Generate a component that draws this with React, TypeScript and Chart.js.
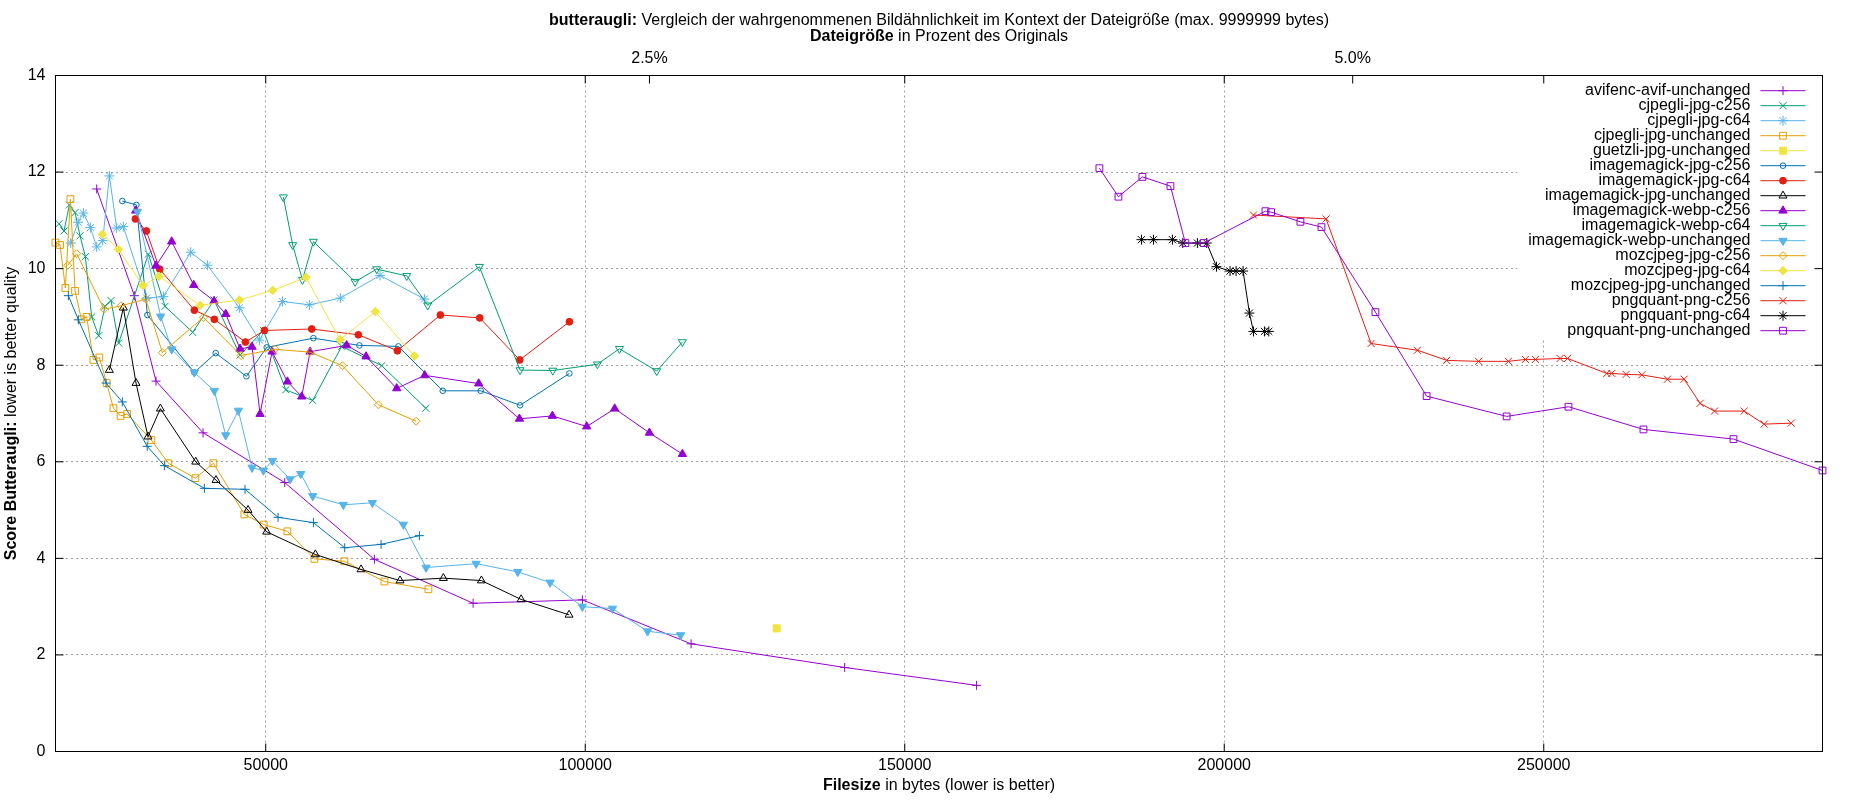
import React, { useEffect, useRef } from 'react';
import { Chart, registerables } from 'chart.js';
import { drawPoint } from 'chart.js/helpers';

Chart.register(...registerables);

// [Dateigröße in bytes, Score Butteraugli]
const avifencAvifUnchanged: [number, number][] = [
  [23550, 11.65], [29440, 9.44], [32830, 7.67], [40190, 6.6], [52970, 5.57], [67000, 3.98],
  [82450, 3.07], [99550, 3.14], [116560, 2.23], [140600, 1.74], [161240, 1.37],
];
const cjpegliJpgC256: [number, number][] = [
  [17650, 10.93], [18430, 10.78], [19270, 11.32], [20160, 11.16], [20940, 10.68], [21770, 10.25],
  [22760, 9.0], [23860, 8.61], [24850, 9.22], [25790, 9.34], [26990, 8.46], [31630, 10.3],
  [34240, 9.22], [38570, 8.68], [41910, 9.35], [45980, 8.21], [49630, 8.72], [53130, 7.49],
  [57350, 7.27], [61890, 8.39], [68150, 7.99], [75040, 7.11],
];
const cjpegliJpgC64: [number, number][] = [
  [19480, 10.53], [20630, 10.96], [21460, 11.15], [22560, 10.85], [23550, 10.45], [24490, 10.58],
  [25530, 11.92], [26680, 10.84], [27720, 10.87], [31370, 9.39], [33980, 9.42], [38260, 10.34],
  [40870, 10.07], [45880, 9.19], [49010, 8.52], [52610, 9.32], [56830, 9.25], [61680, 9.39],
  [67890, 9.86], [74830, 9.37],
];
const cjpegliJpgUnchanged: [number, number][] = [
  [17100, 10.54], [17810, 10.49], [18640, 9.6], [19430, 11.44], [20160, 9.54], [21150, 8.95],
  [21980, 9.0], [23030, 8.11], [23960, 8.16], [25110, 7.63], [26160, 7.11], [27280, 6.95],
  [28320, 6.99], [32100, 6.45], [34760, 5.97], [38990, 5.66], [41810, 5.97], [46660, 4.91],
  [49680, 4.7], [53390, 4.56], [57610, 3.99], [62310, 3.94], [68570, 3.52], [75460, 3.36],
];
const guetzliJpgUnchanged: [number, number][] = [[129950, 2.55]];
const imagemagickJpgC256: [number, number][] = [
  [27560, 11.4], [29760, 11.32], [31480, 9.04], [38830, 7.85], [42170, 8.25], [46970, 7.77],
  [50150, 8.37], [57460, 8.56], [64660, 8.41], [70760, 8.39], [77700, 7.47], [83650, 7.47],
  [89800, 7.17], [97520, 7.83],
];
const imagemagickJpgC64: [number, number][] = [
  [29600, 11.03], [31320, 10.78], [33410, 9.99], [38830, 9.14], [41960, 8.95], [46820, 8.48],
  [49790, 8.72], [57200, 8.75], [64500, 8.63], [70600, 8.3], [77330, 9.04], [83490, 8.98],
  [89750, 8.11], [97520, 8.9],
];
const imagemagickJpgUnchanged: [number, number][] = [
  [25530, 7.9], [27720, 9.19], [29700, 7.63], [31580, 6.52], [33510, 7.1], [39040, 6.0],
  [42220, 5.62], [47230, 5.0], [50150, 4.55], [57770, 4.08], [64920, 3.77], [71020, 3.54],
  [77800, 3.59], [83750, 3.54], [89960, 3.15], [97470, 2.83],
];
const imagemagickWebpC256: [number, number][] = [
  [29650, 11.2], [32830, 10.06], [35280, 10.56], [38730, 9.66], [41910, 9.33], [43740, 9.06],
  [45980, 8.34], [47860, 8.38], [49110, 6.99], [50990, 8.28], [53390, 7.66], [55630, 7.35],
  [56940, 8.28], [62670, 8.41], [65700, 8.18], [70500, 7.52], [74880, 7.79], [83330, 7.62],
  [89700, 6.89], [94860, 6.95], [100230, 6.73], [104610, 7.1], [110040, 6.6], [115200, 6.16],
];
const imagemagickWebpC64: [number, number][] = [
  [52760, 11.48], [54220, 10.49], [55740, 9.77], [57460, 10.56], [63980, 9.73], [67370, 9.99],
  [72070, 9.85], [75350, 9.24], [83440, 10.04], [89800, 7.9], [94920, 7.89], [101900, 8.02],
  [105350, 8.34], [111190, 7.88], [115200, 8.48],
];
const imagemagickWebpUnchanged: [number, number][] = [
  [29910, 11.18], [33560, 9.01], [35280, 8.33], [38830, 7.85], [41960, 7.47], [43740, 6.55],
  [45720, 7.06], [47860, 5.88], [49630, 5.82], [51040, 6.02], [53810, 5.64], [55480, 5.75],
  [57350, 5.29], [62150, 5.11], [66690, 5.15], [71540, 4.7], [75090, 3.81], [82920, 3.89],
  [89440, 3.72], [94500, 3.5], [99550, 3.0], [104260, 2.96], [109750, 2.49], [114920, 2.41],
];
const mozcjpegJpgC256: [number, number][] = [
  [19010, 10.07], [20420, 10.31], [24700, 9.16], [27350, 9.23], [31220, 9.37], [33820, 8.26],
  [40240, 8.99], [46140, 8.2], [51460, 8.33], [56940, 8.27], [62000, 7.99], [67630, 7.18],
  [73530, 6.84],
];
const mozcjpegJpgC64: [number, number][] = [
  [24430, 10.71], [26940, 10.4], [30800, 9.65], [33300, 9.84], [39720, 9.24], [45880, 9.35],
  [51090, 9.55], [56310, 9.82], [61630, 8.53], [67160, 9.11], [73260, 8.19],
];
const mozcjpegJpgUnchanged: [number, number][] = [
  [19110, 9.44], [20680, 8.94], [25010, 7.63], [27560, 7.24], [31450, 6.32], [34140, 5.92],
  [40400, 5.45], [46760, 5.43], [51930, 4.85], [57460, 4.74], [62360, 4.22], [68050, 4.29],
  [74050, 4.47],
];
const pngquantPngC256: [number, number][] = [
  [204570, 11.11], [215940, 11.03], [222980, 8.45], [230230, 8.31], [234800, 8.1], [239800, 8.08],
  [244470, 8.08], [247130, 8.12], [248700, 8.12], [252560, 8.14], [253730, 8.14], [259860, 7.83],
  [260650, 7.83], [262890, 7.81], [265340, 7.8], [269360, 7.71], [271970, 7.71], [274470, 7.21],
  [276720, 7.05], [281360, 7.05], [284490, 6.78], [288720, 6.8],
];
const pngquantPngC64: [number, number][] = [
  [187040, 10.6], [188920, 10.6], [191890, 10.6], [193510, 10.53], [195800, 10.53], [197260, 10.53],
  [198780, 10.04], [200910, 9.95], [201850, 9.95], [202950, 9.95], [203940, 9.08], [204570, 8.7],
  [206290, 8.7], [206970, 8.7],
];
const pngquantPngUnchanged: [number, number][] = [
  [180460, 12.08], [183440, 11.49], [187190, 11.9], [191580, 11.71], [193920, 10.53], [196790, 10.53],
  [206450, 11.19], [207330, 11.17], [211920, 10.97], [215210, 10.86], [223660, 9.1], [231670, 7.36],
  [244190, 6.94], [253870, 7.14], [265600, 6.67], [279690, 6.47], [293620, 5.82],
];

const SERIES_NAMES = [
  'avifenc-avif-unchanged', 'cjpegli-jpg-c256', 'cjpegli-jpg-c64', 'cjpegli-jpg-unchanged',
  'guetzli-jpg-unchanged', 'imagemagick-jpg-c256', 'imagemagick-jpg-c64', 'imagemagick-jpg-unchanged',
  'imagemagick-webp-c256', 'imagemagick-webp-c64', 'imagemagick-webp-unchanged', 'mozcjpeg-jpg-c256',
  'mozcjpeg-jpg-c64', 'mozcjpeg-jpg-unchanged', 'pngquant-png-c256', 'pngquant-png-c64',
  'pngquant-png-unchanged',
];
const SERIES_DATA = [
  avifencAvifUnchanged, cjpegliJpgC256, cjpegliJpgC64, cjpegliJpgUnchanged, guetzliJpgUnchanged,
  imagemagickJpgC256, imagemagickJpgC64, imagemagickJpgUnchanged, imagemagickWebpC256,
  imagemagickWebpC64, imagemagickWebpUnchanged, mozcjpegJpgC256, mozcjpegJpgC64,
  mozcjpegJpgUnchanged, pngquantPngC256, pngquantPngC64, pngquantPngUnchanged,
];
// guetzli hat nur einen Punkt
const POINTS_ONLY = ['guetzli-jpg-unchanged'];

const X_TICKS = [50000, 100000, 150000, 200000, 250000];
const X2_TICKS = [2.5, 5.0];
const Y_TICKS = [0, 2, 4, 6, 8, 10, 12, 14];
const ORIGINAL_BYTES = 4402000;

const allX = SERIES_DATA.flat().map((p) => p[0]);
const X_MIN = Math.min(...allX);
const X_MAX = Math.max(...allX);

// gnuplot Standardfarben
const COLORS = ['#9400d3', '#009e73', '#56b4e9', '#e69f00', '#f0e442', '#0072b2', '#e51e10', '#000000'];
// gnuplot pointtypes 1..13, danach wieder von vorn
const MARKERS: { style: any; radius: number; filled: boolean; rotation?: number }[] = [
  { style: 'cross', radius: 4.5, filled: false },
  { style: 'crossRot', radius: 5, filled: false },
  { style: 'star', radius: 5, filled: false },
  { style: 'rect', radius: 4.8, filled: false },
  { style: 'rect', radius: 5, filled: true },
  { style: 'circle', radius: 2.8, filled: false },
  { style: 'circle', radius: 3.4, filled: true },
  { style: 'triangle', radius: 4.6, filled: false },
  { style: 'triangle', radius: 4.8, filled: true },
  { style: 'triangle', radius: 4.6, filled: false, rotation: 180 },
  { style: 'triangle', radius: 4.8, filled: true, rotation: 180 },
  { style: 'rectRot', radius: 4, filled: false },
  { style: 'rectRot', radius: 4.3, filled: true },
];

const FONT = '"Liberation Sans", Arial, sans-serif';
const FS = 16;

// Text mit fett/normal gemischt, zentriert
function drawMixed(ctx: CanvasRenderingContext2D, parts: [string, boolean][], cx: number, cy: number) {
  const widths = parts.map(([t, b]) => {
    ctx.font = `${b ? 'bold ' : ''}${FS}px ${FONT}`;
    return ctx.measureText(t).width;
  });
  let x = cx - widths.reduce((a, b) => a + b, 0) / 2;
  ctx.textAlign = 'left';
  ctx.textBaseline = 'middle';
  ctx.fillStyle = '#000';
  parts.forEach(([t, b], i) => {
    ctx.font = `${b ? 'bold ' : ''}${FS}px ${FONT}`;
    ctx.fillText(t, x, cy);
    x += widths[i];
  });
}

const gnuplotDecor = {
  id: 'gnuplotDecor',
  afterDatasetsDraw(chart: any) {
    const { ctx, chartArea: a, scales } = chart;
    ctx.save();

    // Legende, oben rechts mit weißem Hintergrund
    const boxLeft = a.right - 305;
    ctx.fillStyle = '#fff';
    ctx.fillRect(boxLeft, a.top + 0.5, a.right - boxLeft - 0.5, 262);
    chart.data.datasets.forEach((ds: any, i: number) => {
      const y = a.top + 15.2 + 15 * i;
      ctx.fillStyle = '#000';
      ctx.font = `${FS}px ${FONT}`;
      ctx.textAlign = 'right';
      ctx.textBaseline = 'middle';
      ctx.fillText(ds.label, a.right - 72, y);
      ctx.strokeStyle = ds.borderColor;
      ctx.lineWidth = 1;
      ctx.beginPath();
      ctx.moveTo(a.right - 62, y);
      ctx.lineTo(a.right - 17, y);
      ctx.stroke();
      ctx.fillStyle = ds.pointBackgroundColor;
      drawPoint(ctx, {
        pointStyle: ds.pointStyle,
        rotation: ds.pointRotation || 0,
        radius: ds.pointRadius,
        borderWidth: 1,
      }, a.right - 39.5, y);
    });

    // Rahmen und Tics nach innen
    ctx.strokeStyle = '#000';
    ctx.lineWidth = 1;
    ctx.strokeRect(a.left, a.top, a.right - a.left, a.bottom - a.top);
    const tl = 8;
    ctx.beginPath();
    X_TICKS.forEach((v) => {
      const px = scales.x.getPixelForValue(v);
      ctx.moveTo(px, a.bottom); ctx.lineTo(px, a.bottom - tl);
      ctx.moveTo(px, a.top); ctx.lineTo(px, a.top + tl);
    });
    X2_TICKS.forEach((v) => {
      const px = scales.x2.getPixelForValue(v);
      ctx.moveTo(px, a.top); ctx.lineTo(px, a.top + tl);
    });
    Y_TICKS.forEach((v) => {
      const py = scales.y.getPixelForValue(v);
      ctx.moveTo(a.left, py); ctx.lineTo(a.left + tl, py);
      ctx.moveTo(a.right, py); ctx.lineTo(a.right - tl, py);
    });
    ctx.stroke();
    ctx.restore();
  },
  afterDraw(chart: any) {
    const { ctx, chartArea: a } = chart;
    const cx = (a.left + a.right) / 2;
    ctx.save();
    drawMixed(ctx, [
      ['butteraugli:', true],
      [' Vergleich der wahrgenommenen Bildähnlichkeit im Kontext der Dateigröße (max. 9999999 bytes)', false],
    ], cx, 21);
    drawMixed(ctx, [['Dateigröße', true], [' in Prozent des Originals', false]], cx, 37);
    drawMixed(ctx, [['Filesize', true], [' in bytes (lower is better)', false]], cx, 786);
    ctx.translate(12, (a.top + a.bottom) / 2);
    ctx.rotate(-Math.PI / 2);
    drawMixed(ctx, [['Score Butteraugli:', true], [' lower is better quality', false]], 0, 0);
    ctx.restore();
  },
};

const tickFont = { family: FONT, size: FS };

export default function App() {
  const canvasRef = useRef<HTMLCanvasElement>(null);

  useEffect(() => {
    document.body.style.margin = '0';
    const canvas = canvasRef.current;
    if (!canvas) return;

    const datasets = SERIES_NAMES.map((name, i) => {
      const color = COLORS[i % COLORS.length];
      const m = MARKERS[i % MARKERS.length];
      return {
        label: name,
        data: SERIES_DATA[i].map(([x, y]) => ({ x, y })),
        borderColor: color,
        backgroundColor: color,
        borderWidth: 1,
        pointStyle: m.style,
        pointRadius: m.radius,
        pointRotation: m.rotation || 0,
        pointBorderColor: color,
        pointBackgroundColor: m.filled ? color : 'rgba(0,0,0,0)',
        pointBorderWidth: 1,
        showLine: !POINTS_ONLY.includes(name),
        tension: 0,
        clip: 10,
        order: SERIES_NAMES.length - i,
      };
    });

    const chart = new Chart(canvas, {
      type: 'scatter',
      data: { datasets },
      options: {
        animation: false,
        responsive: false,
        events: [],
        layout: { padding: { left: 0, top: 0, right: 27.5, bottom: 0 } },
        plugins: {
          legend: { display: false },
          tooltip: { enabled: false },
        },
        scales: {
          x: {
            type: 'linear',
            position: 'bottom',
            min: X_MIN,
            max: X_MAX,
            afterBuildTicks: (s: any) => { s.ticks = X_TICKS.map((value) => ({ value })); },
            afterFit: (s: any) => { s.height = 48.5; },
            ticks: { font: tickFont, color: '#000', padding: 4, maxRotation: 0, autoSkip: false, callback: (v: any) => String(v) },
            grid: { color: '#a0a0a0', lineWidth: 1, drawTicks: false },
            border: { display: false, dash: [2, 3] },
          },
          x2: {
            type: 'linear',
            position: 'top',
            min: (X_MIN / ORIGINAL_BYTES) * 100,
            max: (X_MAX / ORIGINAL_BYTES) * 100,
            afterBuildTicks: (s: any) => { s.ticks = X2_TICKS.map((value) => ({ value })); },
            afterFit: (s: any) => { s.height = 75.5; },
            ticks: { font: tickFont, color: '#000', padding: 7, maxRotation: 0, autoSkip: false, callback: (v: any) => Number(v).toFixed(1) + '%' },
            grid: { display: false, drawTicks: false },
            border: { display: false },
          },
          y: {
            type: 'linear',
            position: 'left',
            min: 0,
            max: 14,
            afterBuildTicks: (s: any) => { s.ticks = Y_TICKS.map((value) => ({ value })); },
            afterFit: (s: any) => { s.width = 55.5; },
            ticks: { font: tickFont, color: '#000', padding: 10, callback: (v: any) => String(v) },
            grid: { color: '#a0a0a0', lineWidth: 1, drawTicks: false },
            border: { display: false, dash: [2, 3] },
          },
        },
      },
      plugins: [gnuplotDecor],
    });

    return () => chart.destroy();
  }, []);

  return (
    <div style={{ width: 1850, height: 800, background: '#fff' }}>
      <canvas ref={canvasRef} width={1850} height={800} style={{ display: 'block' }} />
    </div>
  );
}
